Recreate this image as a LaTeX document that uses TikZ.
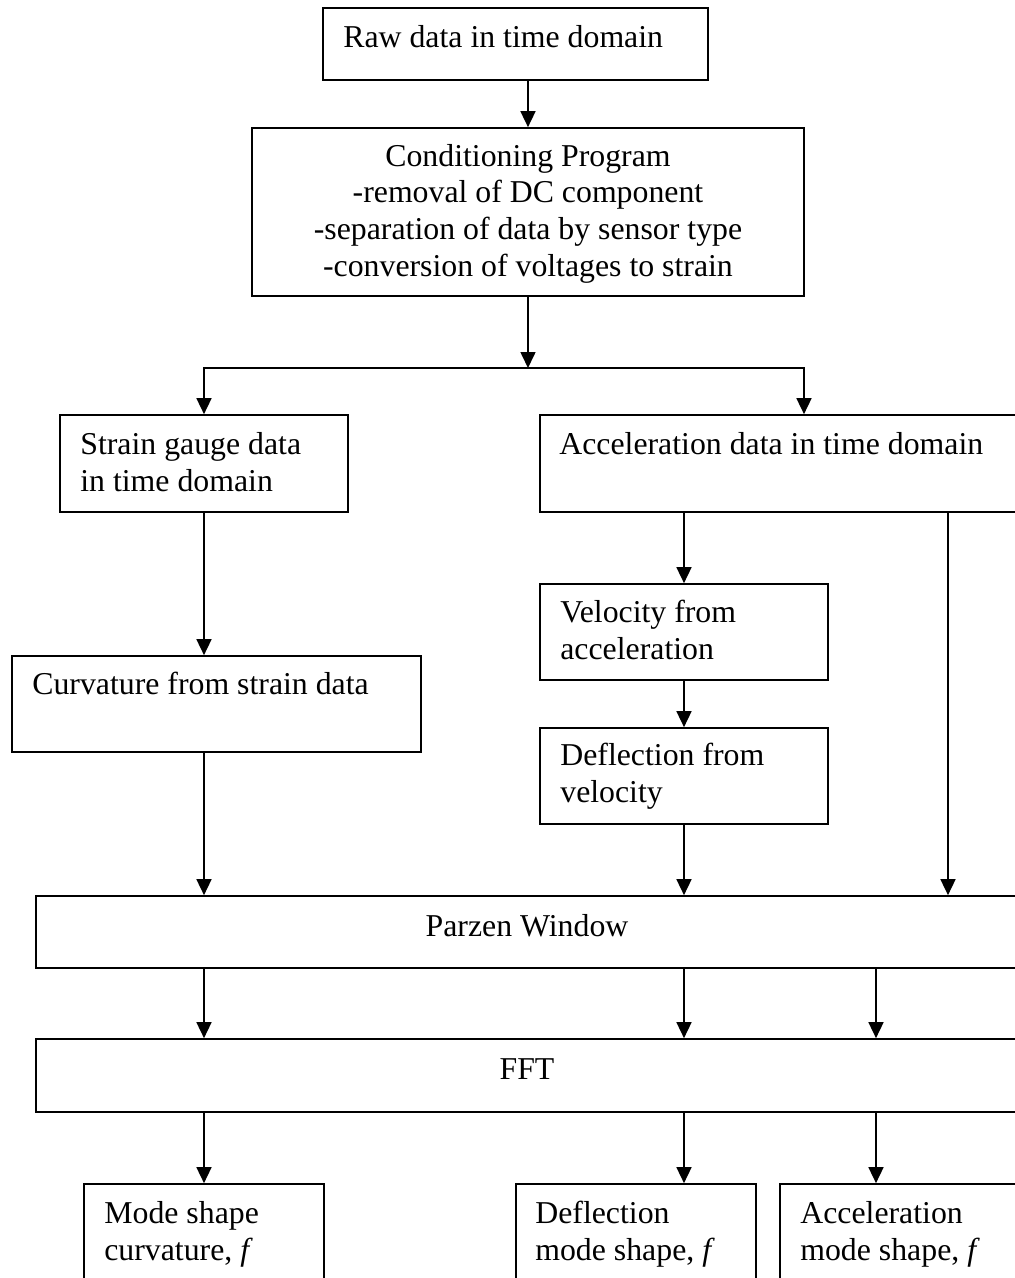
\documentclass[tikz,border=0pt]{standalone}
\usepackage{fontspec}
\setmainfont{Liberation Serif}
\usetikzlibrary{arrows.meta}
\tikzset{
	box/.style={draw, line width=1.7pt, inner sep=0pt},
	txt/.style={anchor=base west, align=left, inner sep=0pt, font=\fontsize{31.8}{36.7}\selectfont},
	ctxt/.style={txt, anchor=base, align=center},
	arr/.style={line width=1.6pt, -{Triangle[length=16pt,width=15pt]}}
}
\begin{document}
\begin{tikzpicture}[x=1pt, y=-1pt]
		\clip (0,0) rectangle (1015,1278);
		%columns of the arrows
		\coordinate (colA) at (204,0);
		\coordinate (colB) at (684,0);
		\coordinate (colC) at (876,0);
		\coordinate (colR) at (948,0);
		\coordinate (colS) at (804,0);
		
		%boxes
		\node[box, minimum width=385pt, minimum height=72pt] (raw) at (515.5,44) {};
		\node[box, minimum width=552pt, minimum height=168pt] (cond) at (528,212) {};
		\node[box, minimum width=288pt, minimum height=97pt] (strain) at (204,463.5) {};
		\node[box, minimum width=480pt, minimum height=97pt] (acc) at (780,463.5) {};
		\node[box, minimum width=409pt, minimum height=96pt] (curv) at (216.5,704) {};
		\node[box, minimum width=288pt, minimum height=96pt] (vel) at (684,632) {};
		\node[box, minimum width=288pt, minimum height=96pt] (defl) at (684,776) {};
		\node[box, minimum width=982pt, minimum height=72pt] (parzen) at (527,932) {};
		\node[box, minimum width=982pt, minimum height=73pt] (fft) at (527,1075.5) {};
		\node[box, minimum width=240pt, minimum height=116pt] (modecurv) at (204,1242) {};
		\node[box, minimum width=240pt, minimum height=116pt] (modedefl) at (636,1242) {};
		\node[box, minimum width=240pt, minimum height=116pt] (modeacc) at (900,1242) {};
		
		%texts (base = last line)
		\node[txt] (rawtxt) at ([shift={(21,40)}]raw.north west) {Raw data in time domain};
		\node[ctxt] (condtxt) at ([shift={(0,149)}]cond.north) {Conditioning Program\\-removal of DC component\\-separation of data by sensor type\\-conversion of voltages to strain};
		\node[txt] (straintxt) at ([shift={(21,77)}]strain.north west) {Strain gauge data\\in time domain};
		\node[txt] (acctxt) at ([shift={(20,40)}]acc.north west) {Acceleration data in time domain};
		\node[txt] (curvtxt) at ([shift={(21,39)}]curv.north west) {Curvature from strain data};
		\node[txt] (veltxt) at ([shift={(21,76)}]vel.north west) {Velocity from\\acceleration};
		\node[txt] (defltxt) at ([shift={(21,75)}]defl.north west) {Deflection from\\velocity};
		\node[ctxt] (parzentxt) at ([shift={(0,41)}]parzen.north) {Parzen Window};
		\node[ctxt] (ffttxt) at ([shift={(0,41)}]fft.north) {FFT};
		\node[txt] (modecurvtxt) at ([shift={(21,77)}]modecurv.north west) {Mode shape\\curvature, \textit{f}};
		\node[txt] (modedefltxt) at ([shift={(20,77)}]modedefl.north west) {Deflection\\mode shape, \textit{f}};
		\node[txt] (modeacctxt) at ([shift={(21,77)}]modeacc.north west) {Acceleration\\mode shape, \textit{f}};
		
		%arrows
		\coordinate (split) at (528,368);
		\draw[arr] (raw.south -| cond.north) -- (cond.north);
		\draw[arr] (cond.south) -- (split);
		\draw[arr] (split) -| (strain.north);
		\draw[arr] (split) -| (acc.north -| colS);
		\draw[arr] (strain.south) -- (curv.north -| strain.south);
		\draw[arr] (curv.south -| colA) -- (parzen.north -| colA);
		\draw[arr] (acc.south -| colB) -- (vel.north);
		\draw[arr] (vel.south) -- (defl.north);
		\draw[arr] (defl.south) -- (parzen.north -| defl.south);
		\draw[arr] (acc.south -| colR) -- (parzen.north -| colR);
		\foreach \c in {colA, colB, colC}{
			\draw[arr] (parzen.south -| \c) -- (fft.north -| \c);
			\draw[arr] (fft.south -| \c) -- (modecurv.north -| \c);
		}
\end{tikzpicture}
\end{document}
